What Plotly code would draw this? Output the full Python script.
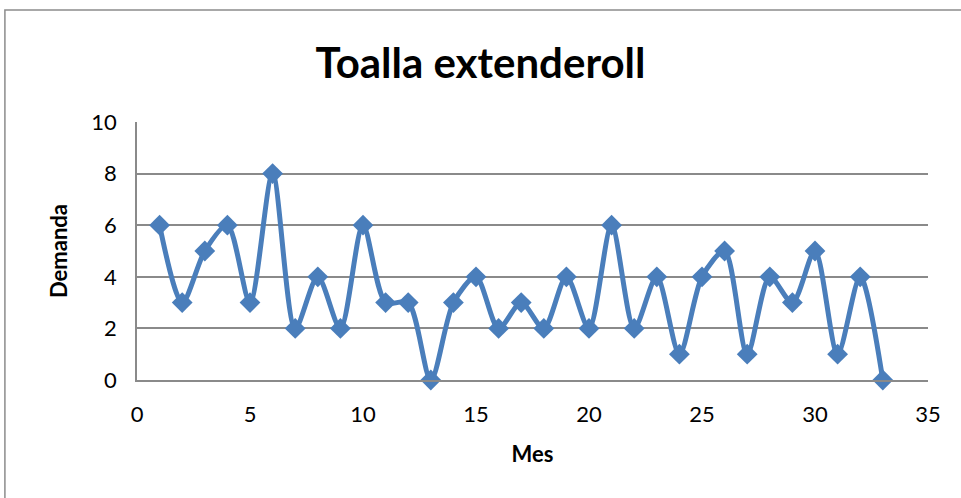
import plotly.graph_objects as go

mes = list(range(1, 34))
demanda = [6, 3, 5, 6, 3, 8, 2, 4, 2, 6, 3, 3, 0, 3, 4, 2, 3, 2, 4, 2, 6,
           2, 4, 1, 4, 5, 1, 4, 3, 5, 1, 4, 0]

x_ticks = [0, 5, 10, 15, 20, 25, 30, 35]
y_ticks = [0, 2, 4, 6, 8, 10]

FONT = "Lato, 'Open Sans', sans-serif"
GRID = "#8a8a8a"

fig = go.Figure()
fig.add_trace(go.Scatter(
    x=mes,
    y=demanda,
    mode="lines+markers",
    line=dict(color="#4a7ebb", width=5, shape="spline", smoothing=0.8),
    marker=dict(symbol="diamond", size=16, color="#4a7ebb"),
    cliponaxis=False,
    showlegend=False,
))

fig.update_layout(
    width=961,
    height=498,
    margin=dict(l=137, r=33, t=122, b=118),
    paper_bgcolor="white",
    plot_bgcolor="white",
    font=dict(family=FONT, color="black"),
    title=dict(
        text="<b>Toalla extenderoll</b>",
        x=0.5, xanchor="center",
        y=0.872, yanchor="middle",
        font=dict(size=42, family=FONT),
    ),
    xaxis=dict(
        range=[0, 35],
        tickvals=x_ticks,
        showgrid=False,
        zeroline=False,
        showline=True,
        linecolor=GRID,
        linewidth=1.5,
        tickfont=dict(size=22),
        ticklabelstandoff=14,
        title=dict(text="<b>Mes</b>", font=dict(size=22), standoff=20),
        ticks="",
    ),
    yaxis=dict(
        range=[0, 10],
        tickvals=y_ticks,
        showgrid=True,
        gridcolor=GRID,
        gridwidth=1.5,
        zeroline=False,
        showline=True,
        linecolor=GRID,
        linewidth=1.5,
        tickfont=dict(size=22),
        ticklabelstandoff=14,
        title=dict(text="<b>Demanda</b>", font=dict(size=22), standoff=18),
        ticks="",
    ),
    shapes=[dict(
        type="rect", xref="paper", yref="paper",
        x0=-0.167, x1=1.2, y0=-0.6, y1=1.434,
        line=dict(color="#8c8c8c", width=1.5),
        fillcolor="rgba(0,0,0,0)",
        layer="below",
    )],
)

fig.write_html("out.html", config={"displayModeBar": False},
               post_script="document.body.style.margin = '0';")
